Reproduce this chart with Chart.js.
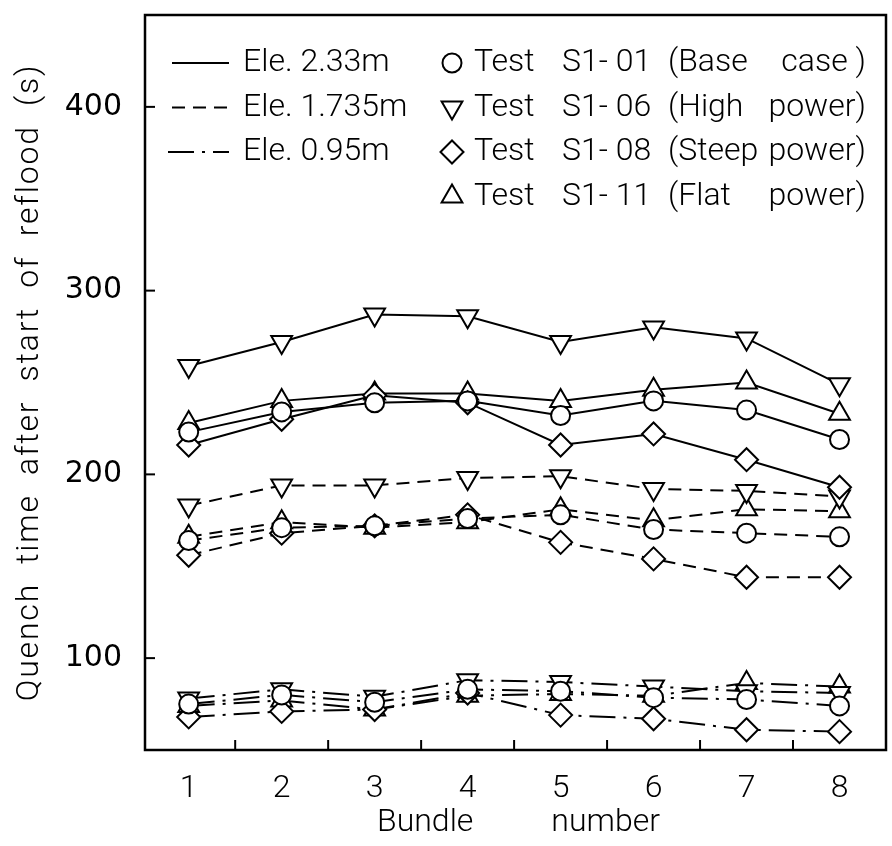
<!DOCTYPE html>
<html>
<head>
<meta charset="utf-8">
<script src="https://cdn.jsdelivr.net/npm/chart.js@4.4.1/dist/chart.umd.min.js"></script>
<style>
  html, body { margin: 0; padding: 0; background: #fff; overflow: hidden; }
  #wrap { position: relative; width: 900px; height: 846px; }
</style>
</head>
<body>
<div id="wrap"><canvas id="c"></canvas></div>
<script>
// Bundle numbers along the x axis and the labelled y ticks
const BUNDLES = [1, 2, 3, 4, 5, 6, 7, 8];
const Y_TICKS = [100, 200, 300, 400];

// Elevations (line style) and tests (marker style)
const ELEVATIONS = ['Ele. 2.33m', 'Ele. 1.735m', 'Ele. 0.95m'];
const TESTS = ['S1- 01', 'S1- 06', 'S1- 08', 'S1- 11'];
const TEST_CASES = [['(Base', 'case )'], ['(High', 'power)'], ['(Steep', 'power)'], ['(Flat', 'power)']];

// Quench time after start of reflood (s), elevation 2.33 m
const base_e233  = [223, 234, 239, 240, 232, 240, 235, 219];
const high_e233  = [259, 272, 287, 286, 272, 280, 274, 249];
const steep_e233 = [216, 230, 243, 239, 216, 222, 208, 193];
const flat_e233  = [228, 240, 244, 244, 240, 246, 250, 233];

// elevation 1.735 m
const base_e1735  = [164, 171, 172, 176, 178, 170, 168, 166];
const high_e1735  = [183, 194, 194, 198, 199, 192, 191, 188];
const steep_e1735 = [156, 168, 172, 178, 163, 154, 144, 144];
const flat_e1735  = [166, 174, 171, 174, 181, 175, 181, 180];

// elevation 0.95 m
const base_e095  = [75, 80, 76, 83, 82, 78.5, 77.5, 74];
const high_e095  = [78, 83, 79, 88, 87, 84.5, 82, 81];
const steep_e095 = [68, 71, 72, 81, 69, 67, 61, 60];
const flat_e095  = [74, 77, 72, 79.5, 80.5, 79.5, 86.5, 84.5];

const SERIES = [
  [base_e233, high_e233, steep_e233, flat_e233],
  [base_e1735, high_e1735, steep_e1735, flat_e1735],
  [base_e095, high_e095, steep_e095, flat_e095]
];

const DASHES = [[], [13, 8], [26, 8, 3, 8]];
const MARKERS = [
  { pointStyle: 'circle',   radius: 9.5, rotation: 0 },
  { pointStyle: 'triangle', radius: 12,  rotation: 180 },
  { pointStyle: 'rectRot',  radius: 11.5, rotation: 0 },
  { pointStyle: 'triangle', radius: 12,  rotation: 0 }
];

const TEXT_FONT = '300 32px Roboto, "Liberation Sans", sans-serif';

const datasets = [];
SERIES.forEach((group, e) => {
  group.forEach((values, t) => {
    const m = MARKERS[t];
    datasets.push({
      label: TESTS[t] + ' ' + ELEVATIONS[e],
      data: values.map((v, i) => ({ x: BUNDLES[i], y: v })),
      borderColor: '#000',
      borderWidth: 2,
      borderDash: DASHES[e],
      tension: 0,
      fill: false,
      pointStyle: m.pointStyle,
      pointRadius: m.radius,
      pointRotation: m.rotation,
      pointBorderWidth: 2,
      pointBorderColor: '#000',
      pointBackgroundColor: '#fff'
    });
  });
});

function drawMarker(ctx, m, x, y) {
  ctx.save();
  ctx.lineWidth = 2;
  ctx.strokeStyle = '#000';
  ctx.fillStyle = '#fff';
  ctx.setLineDash([]);
  if (Chart.helpers && Chart.helpers.drawPoint) {
    Chart.helpers.drawPoint(ctx, { pointStyle: m.pointStyle, radius: m.radius, rotation: m.rotation, borderWidth: 2 }, x, y);
  } else {
    ctx.beginPath();
    ctx.arc(x, y, m.radius, 0, Math.PI * 2);
    ctx.fill(); ctx.stroke();
  }
  ctx.restore();
}

// Box, inward tick marks, axis titles and the two-column key
const decorations = {
  id: 'decorations',
  beforeDatasetsDraw(chart) {
    const { ctx, chartArea: a, scales } = chart;
    ctx.save();
    ctx.strokeStyle = '#000';
    ctx.lineWidth = 2.5;
    ctx.strokeRect(a.left, a.top, a.right - a.left, a.bottom - a.top);
    ctx.lineWidth = 2;
    Y_TICKS.forEach(v => {
      const y = scales.y.getPixelForValue(v);
      ctx.beginPath(); ctx.moveTo(a.left, y); ctx.lineTo(a.left + 10, y); ctx.stroke();
    });
    BUNDLES.forEach(b => {
      const x = scales.x.getPixelForValue(b + 0.5);
      ctx.beginPath(); ctx.moveTo(x, a.bottom); ctx.lineTo(x, a.bottom - 10); ctx.stroke();
    });
    ctx.restore();
  },
  afterDraw(chart) {
    const { ctx, chartArea: a } = chart;
    ctx.save();
    ctx.fillStyle = '#000';
    ctx.font = TEXT_FONT;
    ctx.textBaseline = 'middle';

    // axis titles
    ctx.textAlign = 'center';
    ctx.fillText('Bundle          number', (a.left + 892) / 2, 823);
    ctx.save();
    ctx.translate(30, (a.top + a.bottom) / 2);
    ctx.rotate(-Math.PI / 2);
    ctx.letterSpacing = '1.8px';
    ctx.fillText('Quench  time  after  start  of  reflood  (s)', 0, 0);
    ctx.restore();

    // key
    const rowY = i => 63 + i * 44.5;
    ctx.textAlign = 'left';
    ELEVATIONS.forEach((name, i) => {
      const y = rowY(i);
      ctx.save();
      ctx.lineWidth = 2;
      ctx.strokeStyle = '#000';
      ctx.setLineDash(DASHES[i]);
      ctx.beginPath();
      ctx.moveTo(i === 2 ? 168 : 172, y);
      ctx.lineTo(229, y);
      ctx.stroke();
      ctx.restore();
      ctx.fillText(name, 243, y);
    });
    TESTS.forEach((id, i) => {
      const y = rowY(i);
      drawMarker(ctx, MARKERS[i], 452, y);
      ctx.textAlign = 'left';
      ctx.fillText('Test', 474, y);
      ctx.fillText(id, 562, y);
      ctx.fillText(TEST_CASES[i][0], 668, y);
      ctx.textAlign = 'right';
      ctx.fillText(TEST_CASES[i][1], 866, y);
    });
    ctx.restore();
  }
};

new Chart(document.getElementById('c'), {
  type: 'line',
  data: { datasets },
  options: {
    responsive: true,
    maintainAspectRatio: false,
    animation: false,
    layout: { padding: { top: 15, right: 4, left: 0, bottom: 0 } },
    plugins: { legend: { display: false }, tooltip: { enabled: false } },
    scales: {
      x: {
        type: 'linear',
        min: 0.53,
        max: 8.5,
        afterBuildTicks: s => { s.ticks = BUNDLES.map(v => ({ value: v })); },
        afterFit: s => { s.height = 96; s.paddingLeft = 0; s.paddingRight = 0; },
        grid: { display: false, drawTicks: false },
        border: { display: false },
        ticks: {
          color: '#000', padding: 20, maxRotation: 0, autoSkip: false,
          font: { family: 'Roboto, "Liberation Sans", sans-serif', size: 32, weight: 300 }
        }
      },
      y: {
        type: 'linear',
        min: 50,
        max: 450,
        afterBuildTicks: s => { s.ticks = Y_TICKS.map(v => ({ value: v })); },
        afterFit: s => { s.width = 145; s.paddingTop = 0; s.paddingBottom = 0; },
        grid: { display: false, drawTicks: false },
        border: { display: false },
        ticks: {
          color: '#000', padding: 23,
          font: { family: '"DejaVu Sans", sans-serif', size: 30 }
        }
      }
    }
  },
  plugins: [decorations]
});
</script>
</body>
</html>
